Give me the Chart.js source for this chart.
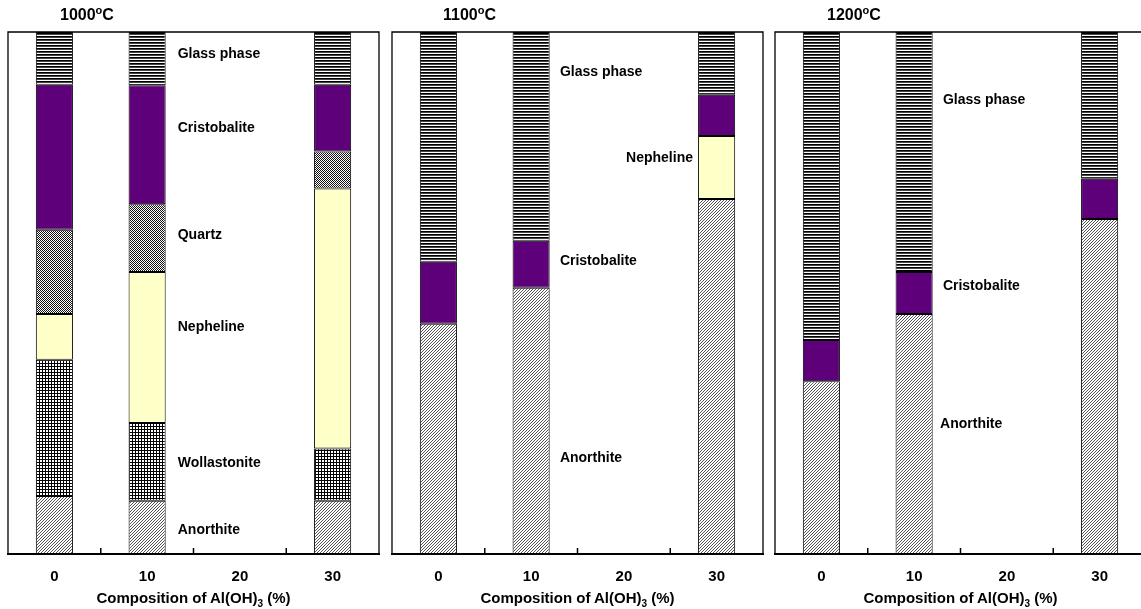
<!DOCTYPE html>
<html><head><meta charset="utf-8">
<script src="https://cdn.jsdelivr.net/npm/chart.js@4.4.0/dist/chart.umd.min.js"></script>
<style>
html,body{margin:0;padding:0;background:#fff;overflow:hidden;width:1141px;height:609px;position:relative;}
.panel{position:absolute;top:0;width:387px;height:609px;}
.title{position:absolute;top:7px;font:bold 16px "Liberation Sans",Arial,sans-serif;line-height:16px;white-space:nowrap;color:#000;}
.title span{font-size:11px;position:relative;top:-6px;}
.xt{position:absolute;top:590px;width:371px;text-align:center;font:bold 15px "Liberation Sans",Arial,sans-serif;line-height:15px;white-space:nowrap;color:#000;}
.xt sub{font-size:10px;vertical-align:baseline;position:relative;top:4px;}
</style></head><body>
<canvas id="c1" class="panel" width="387" height="609" style="left:0px"></canvas>
<canvas id="c2" class="panel" width="387" height="609" style="left:384px"></canvas>
<canvas id="c3" class="panel" width="387" height="609" style="left:767px"></canvas>
<div class="title" style="left:60px">1000<span>o</span>C</div>
<div class="title" style="left:443px">1100<span>o</span>C</div>
<div class="title" style="left:827px">1200<span>o</span>C</div>
<div class="xt" style="left:8px">Composition of Al(OH)<sub>3</sub> (%)</div>
<div class="xt" style="left:392px">Composition of Al(OH)<sub>3</sub> (%)</div>
<div class="xt" style="left:775px">Composition of Al(OH)<sub>3</sub> (%)</div>
<script>
// ---- data ----
const categories = ['0', '10', '20', '30'];
const phases = ['Anorthite', 'Wollastonite', 'Nepheline', 'Quartz', 'Cristobalite', 'Glass phase'];

const anorthite1000    = [11.1, 10.2, null, 10.2];
const wollastonite1000 = [26.1, 14.9, null, 10.0];
const nepheline1000    = [8.8, 28.9, null, 49.8];
const quartz1000       = [16.1, 13.0, null, 7.1];
const cristobalite1000 = [27.8, 22.8, null, 12.8];
const glass1000        = [10.1, 10.2, null, 10.1];

const anorthite1100    = [44.1, 51.0, null, 68.0];
const nepheline1100    = [null, null, null, 12.1];
const cristobalite1100 = [11.9, 9.0, null, 7.9];
const glass1100        = [44.0, 40.0, null, 12.0];

const anorthite1200    = [33.1, 46.0, null, 64.2];
const cristobalite1200 = [7.9, 8.0, null, 7.7];
const glass1200        = [59.0, 46.0, null, 28.1];

const labels1000 = ['Glass phase', 'Cristobalite', 'Quartz', 'Nepheline', 'Wollastonite', 'Anorthite'];
const labels1100 = ['Glass phase', 'Nepheline', 'Cristobalite', 'Anorthite'];
const labels1200 = ['Glass phase', 'Cristobalite', 'Anorthite'];

// ---- patterns ----
function pat(size, draw) {
  const c = document.createElement('canvas');
  c.width = size; c.height = size;
  const g = c.getContext('2d');
  g.fillStyle = '#fff'; g.fillRect(0, 0, size, size);
  draw(g);
  return document.createElement('canvas').getContext('2d').createPattern(c, 'repeat');
}
const P = {
  'Anorthite': pat(3, g => { g.fillStyle = '#555'; for (let i = 0; i < 3; i++) g.fillRect(i, 2 - i, 1, 1); }),
  'Wollastonite': pat(3, g => { g.fillStyle = '#000'; g.fillRect(0, 0, 3, 1); g.fillRect(0, 0, 1, 3); }),
  'Nepheline': '#ffffc8',
  'Quartz': pat(2, g => { g.fillStyle = '#111'; g.fillRect(0, 0, 1, 1); g.fillRect(1, 1, 1, 1); }),
  'Cristobalite': '#5e0079',
  'Glass phase': pat(3, g => { g.fillStyle = '#000'; g.fillRect(0, 0, 3, 1); g.fillStyle = '#444'; g.fillRect(0, 1, 3, 1); })
};

function ds(name, data) {
  return { label: name, data: data, backgroundColor: P[name], borderColor: '#000', borderWidth: 1,
           borderSkipped: false, barPercentage: 1, categoryPercentage: 0.4 };
}

const FONT = '"Liberation Sans", Arial, sans-serif';

const framePlugin = {
  id: 'frame',
  afterDatasetsDraw(chart) {
    const { ctx, chartArea: a } = chart;
    const xs = chart.scales.x;
    ctx.save();
    ctx.strokeStyle = '#000';
    ctx.lineWidth = 1.3;
    ctx.beginPath();
    ctx.moveTo(a.left, a.bottom); ctx.lineTo(a.left, a.top); ctx.lineTo(a.right, a.top); ctx.lineTo(a.right, a.bottom);
    ctx.stroke();
    ctx.lineWidth = 2;
    ctx.beginPath(); ctx.moveTo(a.left - 1, a.bottom); ctx.lineTo(a.right + 1, a.bottom); ctx.stroke();
    ctx.lineWidth = 1.5;
    for (let i = 1; i < categories.length; i++) {
      const x = xs.getPixelForValue(i - 0.5);
      ctx.beginPath(); ctx.moveTo(x, a.bottom - 6); ctx.lineTo(x, a.bottom); ctx.stroke();
    }
    ctx.restore();
  }
};

function annPlugin(texts, xs, ys, aligns) {
  return {
    id: 'ann',
    afterDatasetsDraw(chart) {
      const { ctx } = chart;
      ctx.save();
      ctx.fillStyle = '#000';
      ctx.font = 'bold 14px ' + FONT;
      ctx.textBaseline = 'middle';
      texts.forEach((t, i) => {
        ctx.textAlign = aligns[i];
        ctx.fillText(t, chart.scales.x.getPixelForValue(xs[i]), chart.scales.y.getPixelForValue(ys[i]));
      });
      ctx.restore();
    }
  };
}

function make(id, datasets, ann) {
  return new Chart(document.getElementById(id), {
    type: 'bar',
    data: { labels: categories, datasets: datasets },
    options: {
      responsive: false, animation: false,
      layout: { padding: { left: 8, right: 8, top: 32, bottom: 0 } },
      plugins: { legend: { display: false }, tooltip: { enabled: false } },
      scales: {
        x: { stacked: true, grid: { display: false, drawTicks: false }, border: { display: false },
             ticks: { color: '#000', font: { family: FONT, size: 15, weight: 'bold' }, padding: 14, maxRotation: 0 },
             afterFit: s => { s.height = 55; } },
        y: { stacked: true, display: false, min: 0, max: 100 }
      }
    },
    plugins: [framePlugin, ann]
  });
}

make('c1', [
  ds('Anorthite', anorthite1000), ds('Wollastonite', wollastonite1000), ds('Nepheline', nepheline1000),
  ds('Quartz', quartz1000), ds('Cristobalite', cristobalite1000), ds('Glass phase', glass1000)
], annPlugin(labels1000, [1.33, 1.33, 1.33, 1.33, 1.33, 1.33], [95.8, 81.6, 61.1, 43.5, 17.4, 4.6],
   ['left', 'left', 'left', 'left', 'left', 'left']));

make('c2', [
  ds('Anorthite', anorthite1100), ds('Nepheline', nepheline1100),
  ds('Cristobalite', cristobalite1100), ds('Glass phase', glass1100)
], annPlugin(labels1100, [1.31, 2.745, 1.31, 1.31], [92.3, 75.9, 56.1, 18.4],
   ['left', 'right', 'left', 'left']));

make('c3', [
  ds('Anorthite', anorthite1200), ds('Cristobalite', cristobalite1200), ds('Glass phase', glass1200)
], annPlugin(labels1200, [1.31, 1.31, 1.28], [87.0, 51.3, 24.9], ['left', 'left', 'left']));
</script>
</body></html>
